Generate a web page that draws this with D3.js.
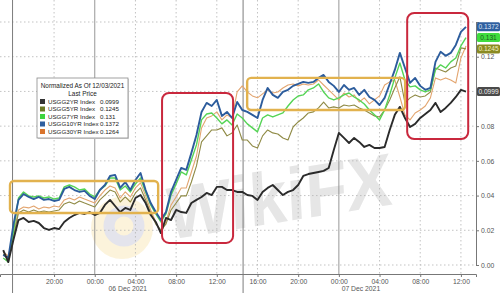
<!DOCTYPE html>
<html>
<head>
<meta charset="utf-8">
<script src="https://cdn.jsdelivr.net/npm/d3@7"></script>
<style>
body { margin: 0; background: #fff; }
svg { display: block; }
text { font-family: "Liberation Sans", Arial, sans-serif; }
</style>
</head>
<body>
<div id="chart"></div>
<script>
// series, half-hour bars from 05 Dec 15:00 to 07 Dec 12:30
const seriesNames = ['USGG2YR Index', 'USGG5YR Index', 'USGG7YR Index', 'USGG10YR Index', 'USGG30YR Index']
const lastPrices = ['0.0999', '0.1245', '0.131', '0.1372', '0.1264']

const usgg2 = [0.0086,0.0017,0.0144,0.0259,0.0271,0.0248,0.0254,0.0242,0.0213,0.0202,
  0.0213,0.0207,0.0248,0.0271,0.0288,0.0300,0.0294,0.0305,0.0288,0.0300,
  0.0346,0.0375,0.0340,0.0305,0.0329,0.0317,0.0386,0.0403,0.0357,0.0288,
  0.0248,0.0184,0.0271,0.0259,0.0317,0.0305,0.0300,0.0357,0.0375,0.0392,
  0.0415,0.0403,0.0450,0.0450,0.0432,0.0432,0.0421,0.0421,0.0403,0.0398,
  0.0375,0.0421,0.0444,0.0461,0.0432,0.0403,0.0421,0.0432,0.0461,0.0513,
  0.0524,0.0530,0.0536,0.0542,0.0559,0.0663,0.0761,0.0732,0.0703,0.0732,
  0.0709,0.0680,0.0692,0.0674,0.0674,0.0680,0.0778,0.0865,0.0911,0.0847,
  0.0795,0.0813,0.0847,0.0870,0.0893,0.0934,0.0882,0.0905,0.0934,0.0968,
  0.1009,0.0999]

const usgg5 = [0.0063,0.0035,0.0156,0.0300,0.0317,0.0305,0.0317,0.0305,0.0311,0.0305,
  0.0311,0.0317,0.0352,0.0363,0.0352,0.0369,0.0357,0.0346,0.0334,0.0375,
  0.0403,0.0432,0.0421,0.0363,0.0392,0.0363,0.0415,0.0444,0.0375,0.0300,
  0.0236,0.0202,0.0236,0.0317,0.0357,0.0398,0.0398,0.0478,0.0571,0.0709,
  0.0744,0.0778,0.0778,0.0790,0.0744,0.0761,0.0807,0.0720,0.0720,0.0686,
  0.0674,0.0744,0.0778,0.0761,0.0755,0.0732,0.0720,0.0795,0.0824,0.0847,
  0.0876,0.0882,0.0905,0.0939,0.0905,0.0911,0.0905,0.0922,0.0916,0.0922,
  0.0905,0.0893,0.0876,0.0859,0.0853,0.0893,0.0951,0.1020,0.1084,0.0934,
  0.0963,0.0980,0.0968,0.0974,0.0997,0.1135,0.1124,0.1112,0.1135,0.1147,
  0.1251,0.1245]

const usgg7 = [0.0040,0.0017,0.0190,0.0386,0.0421,0.0398,0.0392,0.0398,0.0386,0.0392,
  0.0380,0.0386,0.0450,0.0461,0.0450,0.0432,0.0438,0.0409,0.0392,0.0432,
  0.0455,0.0501,0.0501,0.0432,0.0455,0.0421,0.0467,0.0501,0.0421,0.0346,
  0.0294,0.0248,0.0294,0.0403,0.0467,0.0536,0.0519,0.0605,0.0692,0.0836,
  0.0870,0.0876,0.0847,0.0813,0.0836,0.0807,0.0870,0.0847,0.0813,0.0790,
  0.0767,0.0847,0.0865,0.0853,0.0865,0.0876,0.0916,0.0951,0.0974,0.0980,
  0.1009,0.1020,0.1043,0.0997,0.0963,0.0951,0.0963,0.0980,0.0991,0.0968,
  0.0951,0.0928,0.0893,0.0865,0.0836,0.0893,0.0980,0.1078,0.1164,0.1066,
  0.1026,0.1032,0.1009,0.0997,0.1009,0.1124,0.1153,0.1135,0.1170,0.1193,
  0.1262,0.1310]

const usgg10 = [0.0058,0.0040,0.0231,0.0375,0.0409,0.0392,0.0380,0.0392,0.0375,0.0380,
  0.0369,0.0375,0.0438,0.0450,0.0432,0.0421,0.0427,0.0398,0.0380,0.0432,
  0.0461,0.0513,0.0519,0.0444,0.0478,0.0432,0.0490,0.0530,0.0432,0.0357,
  0.0305,0.0259,0.0305,0.0421,0.0490,0.0559,0.0548,0.0646,0.0749,0.0882,
  0.0934,0.0916,0.0951,0.0859,0.0882,0.0847,0.0939,0.0893,0.0882,0.0865,
  0.0847,0.0951,0.1020,0.0980,0.0963,0.0997,0.1009,0.1032,0.1043,0.1055,
  0.1049,0.1055,0.1078,0.1095,0.1055,0.1032,0.0997,0.1037,0.1009,0.1020,
  0.0980,0.1009,0.0968,0.0951,0.0922,0.0963,0.1043,0.1124,0.1222,0.1135,
  0.1049,0.1078,0.1032,0.1009,0.1020,0.1170,0.1228,0.1205,0.1222,0.1268,
  0.1343,0.1372]

const usgg30 = [0.0075,0.0052,0.0173,0.0317,0.0334,0.0329,0.0340,0.0323,0.0334,0.0329,
  0.0340,0.0334,0.0375,0.0386,0.0375,0.0392,0.0380,0.0369,0.0357,0.0398,
  0.0432,0.0455,0.0444,0.0386,0.0421,0.0392,0.0444,0.0473,0.0398,0.0317,
  0.0248,0.0184,0.0248,0.0346,0.0392,0.0444,0.0444,0.0536,0.0628,0.0790,
  0.0847,0.0859,0.0882,0.0836,0.0865,0.0847,0.0997,0.1032,0.0997,0.0974,
  0.0963,0.0986,0.1009,0.0991,0.0997,0.1020,0.1037,0.1043,0.1032,0.1043,
  0.1037,0.1043,0.1066,0.1037,0.1009,0.0980,0.0951,0.0991,0.0968,0.0980,
  0.0939,0.0963,0.0928,0.0951,0.0974,0.1037,0.1055,0.1066,0.0968,0.0865,
  0.0836,0.0876,0.0893,0.0916,0.0963,0.1078,0.1066,0.1078,0.1066,0.1049,
  0.1193,0.1262]

const yTicks = [0, 0.02, 0.04, 0.06, 0.08, 0.10, 0.12, 0.14]
const hiddenYLabels = [0.10, 0.14] // sit under the last-price tags
const xTickTimes = ['2021-12-05T20:00Z', '2021-12-06T00:00Z', '2021-12-06T04:00Z', '2021-12-06T08:00Z',
  '2021-12-06T12:00Z', '2021-12-06T16:00Z', '2021-12-06T20:00Z', '2021-12-07T00:00Z',
  '2021-12-07T04:00Z', '2021-12-07T08:00Z', '2021-12-07T12:00Z']
const dayBreaks = ['2021-12-06T00:00Z', '2021-12-07T00:00Z']
const sessionBreaks = ['2021-12-05T15:55Z', '2021-12-06T14:35Z']
const dateLabels = [['2021-12-06T03:15Z', '06 Dec 2021'], ['2021-12-07T02:10Z', '07 Dec 2021']]

// highlight boxes: [from, to, low, high]
const goldBoxes = [['2021-12-05T15:40Z', '2021-12-06T06:14Z', 0.0300, 0.0484],
  ['2021-12-06T14:59Z', '2021-12-07T06:31Z', 0.0893, 0.1078]]
const redBoxes = [['2021-12-06T06:37Z', '2021-12-06T13:36Z', 0.0127, 0.0991],
  ['2021-12-07T06:43Z', '2021-12-07T12:43Z', 0.0726, 0.1452]]

const W = 500, H = 293
const axisY = 274, axisX = 476
const parse = d3.isoParse

const times = d3.utcMinute.every(30).range(new Date(Date.UTC(2021, 11, 5, 15, 0)), new Date(Date.UTC(2021, 11, 7, 12, 31)))

const x = d3.scaleUtc()
  .domain([new Date(Date.UTC(2021, 11, 5, 14, 41)), new Date(Date.UTC(2021, 11, 7, 13, 29))])
  .range([0, axisX])
const y = d3.scaleLinear().domain([0, 0.14]).range([265, 22])

const svg = d3.select('#chart').append('svg')
  .attr('width', W).attr('height', H)
  .attr('viewBox', `0 0 ${W} ${H}`)

// faint watermark
const wm = svg.append('g')
wm.append('circle').attr('cx', 122).attr('cy', 228).attr('r', 31).attr('fill', '#fbf0d2').attr('opacity', 0.8)
wm.append('circle').attr('cx', 124).attr('cy', 226).attr('r', 15).attr('fill', 'none')
  .attr('stroke', '#e4e4ec').attr('stroke-width', 11)
wm.append('text').attr('x', 0).attr('y', 0)
  .attr('transform', 'translate(168,240) rotate(-9) skewX(-6)')
  .attr('font-family', 'DejaVu Sans').attr('font-weight', 'bold').attr('font-size', 74)
  .attr('textLength', 228).attr('lengthAdjust', 'spacingAndGlyphs')
  .attr('fill', '#e6e6e6').text('WikiFX')

// grid
const grid = svg.append('g')
grid.selectAll('.hg').data(yTicks).enter().append('line')
  .attr('x1', 0).attr('x2', axisX).attr('y1', d => y(d)).attr('y2', d => y(d))
  .attr('stroke', '#b4b4b4').attr('stroke-width', 0.8).attr('stroke-dasharray', '1.5,2.5')
grid.selectAll('.vg').data(xTickTimes.filter(t => !dayBreaks.includes(t))).enter().append('line')
  .attr('x1', d => x(parse(d))).attr('x2', d => x(parse(d))).attr('y1', 0).attr('y2', axisY)
  .attr('stroke', '#b4b4b4').attr('stroke-width', 0.8).attr('stroke-dasharray', '1.5,2.5')
grid.selectAll('.db').data(dayBreaks).enter().append('line')
  .attr('x1', d => x(parse(d))).attr('x2', d => x(parse(d))).attr('y1', 0).attr('y2', axisY)
  .attr('stroke', '#8c8c8c').attr('stroke-width', 0.9)
grid.selectAll('.sb').data(sessionBreaks).enter().append('line')
  .attr('x1', d => x(parse(d))).attr('x2', d => x(parse(d))).attr('y1', 0).attr('y2', H)
  .attr('stroke', '#6e6e6e').attr('stroke-width', 0.9)

// annotation boxes
const drawBoxes = (list, color, width, r) => {
  svg.append('g').selectAll('rect').data(list).enter().append('rect')
    .attr('x', d => x(parse(d[0]))).attr('y', d => y(d[3]))
    .attr('width', d => x(parse(d[1])) - x(parse(d[0])))
    .attr('height', d => y(d[2]) - y(d[3]))
    .attr('rx', r).attr('fill', 'none').attr('stroke', color).attr('stroke-width', width)
}

// lines
const line = d3.line().x((d, i) => x(times[i])).y(d => y(d))
const lineStyles = [
  { data: usgg30, color: '#e3a56f', w: 1.1 },
  { data: usgg5, color: '#8f8a45', w: 1.1 },
  { data: usgg7, color: '#55d455', w: 1.4 },
  { data: usgg10, color: '#2c5c9c', w: 1.9 },
  { data: usgg2, color: '#2b2b2b', w: 1.9 }
]
svg.append('g').selectAll('path').data(lineStyles).enter().append('path')
  .attr('d', d => line(d.data))
  .attr('fill', 'none').attr('stroke', d => d.color).attr('stroke-width', d => d.w)
  .attr('stroke-linejoin', 'round')

drawBoxes(goldBoxes, '#e2b24e', 2.4, 4)
drawBoxes(redBoxes, '#c9283d', 2, 7)

// axes
const xAxis = svg.append('g').attr('transform', `translate(0,${axisY})`)
  .call(d3.axisBottom(x).tickValues(xTickTimes.map(parse)).tickFormat(d3.utcFormat('%H:%M')).tickSize(3).tickPadding(2))
xAxis.select('.domain').attr('stroke', '#777')
xAxis.selectAll('.tick line').attr('stroke', '#777')
xAxis.selectAll('text').attr('font-size', 6.8).attr('fill', '#555').attr('font-family', '"Liberation Sans", Arial, sans-serif')

svg.append('g').selectAll('text').data(dateLabels).enter().append('text')
  .attr('x', d => x(parse(d[0]))).attr('y', 291).attr('text-anchor', 'middle')
  .attr('font-size', 6.8).attr('fill', '#555').text(d => d[1])

svg.append('text').attr('x', 30).attr('y', 297.5).attr('font-size', 7).attr('fill', '#777')
  .text('Source: Jan 01 2077 0011 Copyright 2021 Bloomberg Finance L.P. 07-Dec-2021 12:44 Generated 07 Dec 2021 12:48')

const yAxis = svg.append('g').attr('transform', `translate(${axisX},0)`)
  .call(d3.axisRight(y).tickValues(yTicks)
    .tickFormat(d => hiddenYLabels.includes(d) ? '' : d3.format('.2f')(d))
    .tickSize(3).tickPadding(2))
yAxis.select('.domain').attr('stroke', '#777')
yAxis.selectAll('.tick line').attr('stroke', '#777')
yAxis.selectAll('text').attr('font-size', 6.8).attr('fill', '#555').attr('font-family', '"Liberation Sans", Arial, sans-serif')

// last price tags (30YR tag sits hidden behind the others in the original)
const tags = [
  { i: 1, bg: '#8a8a22', fg: '#f4f4c0' },
  { i: 2, bg: '#3fdc3f', fg: '#1d5a1d' },
  { i: 3, bg: '#2f5f9f', fg: '#dfe8f6' },
  { i: 0, bg: '#4a4a4a', fg: '#f0f0f0' }
]
const tagG = svg.append('g').selectAll('g').data(tags).enter().append('g')
  .attr('transform', d => `translate(${axisX + 1},${y(+lastPrices[d.i]) - 4.5})`)
tagG.append('rect').attr('width', 23).attr('height', 9).attr('rx', 1.5).attr('fill', d => d.bg)
tagG.append('text').attr('x', 11.5).attr('y', 6.7).attr('text-anchor', 'middle')
  .attr('font-size', 6.6).attr('fill', d => d.fg).text(d => lastPrices[d.i])

// legend
const legendColors = ['#333333', '#6b7a25', '#3ed43e', '#2f5f9f', '#d9742c']
const lg = svg.append('g').attr('transform', 'translate(37,78)')
lg.append('rect').attr('x', 1).attr('y', 1).attr('width', 91).attr('height', 60).attr('fill', '#d8d8d8')
lg.append('rect').attr('width', 91).attr('height', 60).attr('fill', '#fff').attr('stroke', '#8a8a8a').attr('stroke-width', 0.8)
lg.append('text').attr('x', 45.5).attr('y', 10).attr('text-anchor', 'middle').attr('font-size', 6.4).attr('fill', '#222')
  .text('Normalized As Of 12/03/2021')
lg.append('text').attr('x', 45.5).attr('y', 17.5).attr('text-anchor', 'middle').attr('font-size', 6.4).attr('fill', '#222')
  .text('Last Price')
const rows = lg.selectAll('.row').data(seriesNames).enter().append('g')
  .attr('transform', (d, i) => `translate(3,${21 + i * 7.5})`)
rows.append('rect').attr('width', 5).attr('height', 5).attr('fill', (d, i) => legendColors[i])
rows.append('text').attr('x', 8).attr('y', 4.8).attr('font-size', 6.2).attr('fill', '#222').text(d => d)
rows.append('text').attr('x', 60).attr('y', 4.8).attr('font-size', 6.2).attr('fill', '#222').text((d, i) => lastPrices[i])
</script>
</body>
</html>
